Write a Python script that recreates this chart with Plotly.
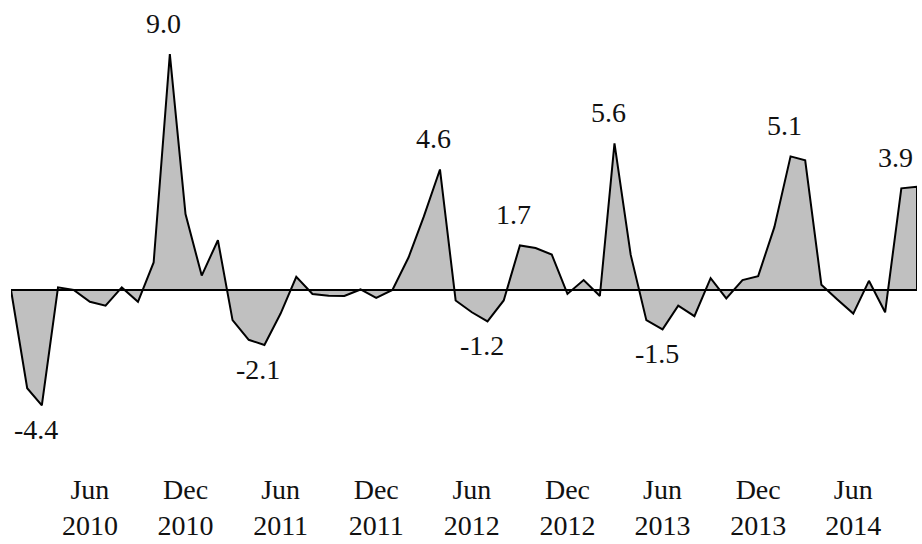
import pandas as pd
import plotly.graph_objects as go

# Monthly values, Jan 2010 - Oct 2014
months = pd.date_range("2010-01-01", periods=58, freq="MS")
values = [
    0.0, -3.75, -4.4, 0.1, 0.0, -0.45, -0.6, 0.1, -0.45, 1.05,
    9.0, 2.9, 0.55, 1.9, -1.15, -1.9, -2.1, -0.9, 0.5, -0.15,
    -0.22, -0.23, 0.02, -0.3, 0.0, 1.25, 2.8, 4.6, -0.4, -0.85,
    -1.2, -0.4, 1.7, 1.6, 1.35, -0.15, 0.38, -0.23, 5.6, 1.35,
    -1.15, -1.5, -0.6, -1.0, 0.45, -0.32, 0.38, 0.53, 2.4, 5.1,
    4.95, 0.2, -0.35, -0.9, 0.35, -0.85, 3.88, 3.94,
]
labelled_idx = [2, 10, 16, 27, 30, 32, 38, 41, 49, 56]

tick_dates = ["2010-06-01", "2010-12-01", "2011-06-01", "2011-12-01", "2012-06-01",
              "2012-12-01", "2013-06-01", "2013-12-01", "2014-06-01"]
tick_labels = ["Jun<br>2010", "Dec<br>2010", "Jun<br>2011", "Dec<br>2011", "Jun<br>2012",
               "Dec<br>2012", "Jun<br>2013", "Dec<br>2013", "Jun<br>2014"]

FONT = "Liberation Serif, Times New Roman, serif"

xs = list(months) + [months[-1], months[0]]
ys = list(values) + [0, 0]

fig = go.Figure()
fig.add_trace(go.Scatter(
    x=xs, y=ys, mode="lines", fill="toself",
    fillcolor="#c0c0c0", line=dict(color="black", width=2),
    cliponaxis=False, hoverinfo="skip", showlegend=False,
))

for i in labelled_idx:
    v = values[i]
    fig.add_annotation(
        x=months[i], y=v, text=f"{v:.1f}", showarrow=False,
        xshift=-6, yshift=31 if v > 0 else -24,
        font=dict(family=FONT, size=28, color="#111111"),
    )

fig.update_layout(
    width=922, height=544,
    margin=dict(l=10.5, r=5.2, t=10, b=70),
    paper_bgcolor="white", plot_bgcolor="white",
    font=dict(family=FONT, size=28, color="#111111"),
    xaxis=dict(
        range=[months[0], months[-1]],
        tickmode="array", tickvals=tick_dates, ticktext=tick_labels,
        showgrid=False, zeroline=False, showline=False, ticks="",
        tickfont=dict(family=FONT, size=28, color="#111111"),
        ticklabelstandoff=-4,
        automargin=False,
    ),
    yaxis=dict(
        range=[-7.023, 10.687],
        showgrid=False, showticklabels=False, showline=False, ticks="",
        zeroline=True, zerolinecolor="black", zerolinewidth=2,
        automargin=False,
    ),
)

fig.write_html(
    "out.html",
    config={"displayModeBar": False},
    post_script="document.body.style.margin='0';document.body.style.overflow='hidden';",
)
